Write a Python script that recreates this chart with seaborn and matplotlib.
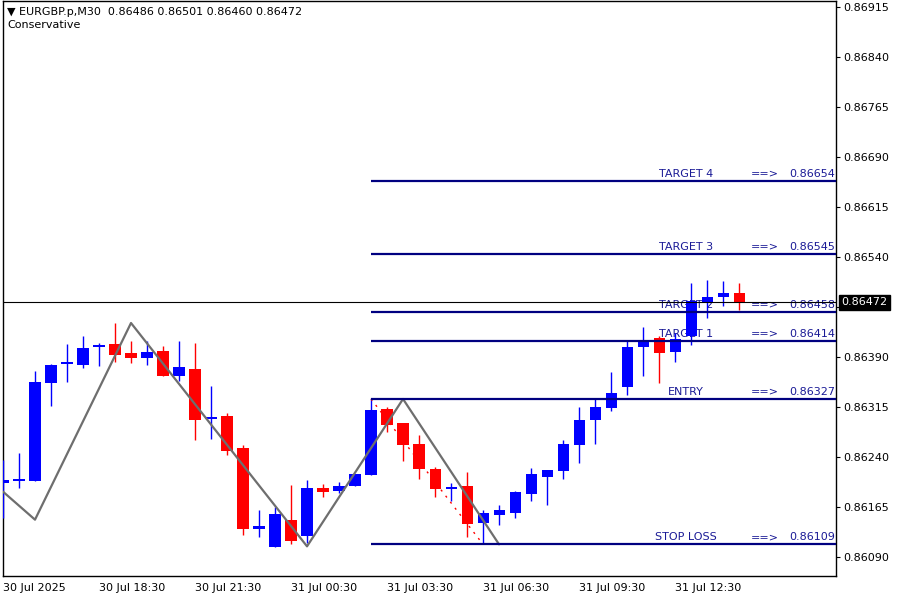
#!/usr/bin/env python3
"""EURGBP M30 candles with zigzag and conservative entry/target levels."""

import matplotlib
matplotlib.use("Agg")
import matplotlib.pyplot as plt
import pandas as pd
import seaborn as sns

# Candle data (bar index 0 = 30 Jul 15:30, 30 minute bars)
opens = [0.86201, 0.86204, 0.86204, 0.86351, 0.86380, 0.86378, 0.86405, 0.86410,
         0.86396, 0.86389, 0.86399, 0.86362, 0.86372, 0.86297, 0.86302, 0.86254,
         0.86132, 0.86105, 0.86146, 0.86122, 0.86194, 0.86189, 0.86197, 0.86213,
         0.86312, 0.86291, 0.86260, 0.86222, 0.86192, 0.86197, 0.86141, 0.86153,
         0.86156, 0.86185, 0.86210, 0.86219, 0.86258, 0.86296, 0.86314, 0.86345,
         0.86405, 0.86419, 0.86398, 0.86422, 0.86471, 0.86480, 0.86486]
highs = [0.86236, 0.86246, 0.86369, 0.86380, 0.86410, 0.86422, 0.86411, 0.86441,
         0.86414, 0.86414, 0.86407, 0.86414, 0.86411, 0.86347, 0.86306, 0.86258,
         0.86161, 0.86165, 0.86198, 0.86206, 0.86200, 0.86203, 0.86215, 0.86329,
         0.86315, 0.86291, 0.86273, 0.86225, 0.86201, 0.86218, 0.86161, 0.86168,
         0.86189, 0.86224, 0.86221, 0.86266, 0.86315, 0.86329, 0.86368, 0.86414,
         0.86435, 0.86422, 0.86426, 0.86501, 0.86506, 0.86504, 0.86501]
lows = [0.86149, 0.86194, 0.86204, 0.86317, 0.86352, 0.86374, 0.86377, 0.86383,
        0.86381, 0.86378, 0.86362, 0.86354, 0.86266, 0.86267, 0.86243, 0.86123,
        0.86120, 0.86105, 0.86110, 0.86111, 0.86180, 0.86186, 0.86197, 0.86213,
        0.86278, 0.86234, 0.86207, 0.86180, 0.86174, 0.86120, 0.86111, 0.86138,
        0.86149, 0.86174, 0.86168, 0.86207, 0.86231, 0.86260, 0.86309, 0.86333,
        0.86362, 0.86351, 0.86383, 0.86408, 0.86449, 0.86467, 0.86460]
closes = [0.86206, 0.86207, 0.86352, 0.86378, 0.86383, 0.86404, 0.86408, 0.86393,
          0.86389, 0.86398, 0.86362, 0.86375, 0.86296, 0.86300, 0.86249, 0.86132,
          0.86137, 0.86155, 0.86114, 0.86194, 0.86188, 0.86197, 0.86215, 0.86311,
          0.86288, 0.86258, 0.86222, 0.86192, 0.86195, 0.86140, 0.86156, 0.86161,
          0.86188, 0.86215, 0.86221, 0.86260, 0.86296, 0.86315, 0.86336, 0.86405,
          0.86416, 0.86396, 0.86417, 0.86474, 0.86480, 0.86486, 0.86472]

# Zigzag pivots
zigzag_bars = [0, 2, 8, 19, 25, 31]
zigzag_prices = [0.86188, 0.86146, 0.86441, 0.86106, 0.86327, 0.86109]

# Red dotted projection
proj_bars = [23, 30]
proj_prices = [0.86327, 0.86109]

# Trade levels
level_names = ["TARGET 4", "TARGET 3", "TARGET 2", "TARGET 1", "ENTRY", "STOP LOSS"]
level_values = [0.86654, 0.86545, 0.86458, 0.86414, 0.86327, 0.86109]
level_start = 23

current_price = 0.86472
header = "\u25bc EURGBP.p,M30  0.86486 0.86501 0.86460 0.86472"
subtitle = "Conservative"

ytick_values = [0.86090, 0.86165, 0.86240, 0.86315, 0.86390, 0.86465,
                0.86540, 0.86615, 0.86690, 0.86765, 0.86840, 0.86915]
xtick_bars = [0, 6, 12, 18, 24, 30, 36, 42]
xtick_labels = ["30 Jul 2025", "30 Jul 18:30", "30 Jul 21:30", "31 Jul 00:30",
                "31 Jul 03:30", "31 Jul 06:30", "31 Jul 09:30", "31 Jul 12:30"]

BULL = "#0000ff"
BEAR = "#ff0000"
LEVEL_LINE = "#000080"
LEVEL_TEXT = "#1a1a96"

sns.set_style("white")
plt.rcParams['font.family'] = ['DejaVu Sans']
plt.rcParams['font.size'] = 8

df = pd.DataFrame({'open': opens, 'high': highs, 'low': lows, 'close': closes})
df['bar'] = range(len(df))
df['color'] = [BULL if c >= o else BEAR for o, c in zip(df['open'], df['close'])]
df['body_lo'] = df[['open', 'close']].min(axis=1)
df['body_h'] = (df['close'] - df['open']).abs().clip(lower=0.00002)

fig = plt.figure(figsize=(9, 6), dpi=100)
ax = fig.add_axes([3 / 900, 24 / 600, 833 / 900, 575 / 600])

# wicks and bodies
ax.vlines(df['bar'], df['low'], df['high'], colors=df['color'], linewidth=1.0, zorder=3)
ax.bar(df['bar'], df['body_h'], bottom=df['body_lo'], width=0.69,
       color=df['color'], linewidth=0, zorder=4)

# zigzag
zz = pd.DataFrame({'bar': zigzag_bars, 'price': zigzag_prices})
sns.lineplot(data=zz, x='bar', y='price', ax=ax, color="#6e6e6e", linewidth=1.6,
             sort=False, zorder=5)
pj = pd.DataFrame({'bar': proj_bars, 'price': proj_prices})
sns.lineplot(data=pj, x='bar', y='price', ax=ax, color=BEAR, linewidth=1.0,
             linestyle=(0, (1.5, 4)), zorder=5)

# levels
for name, val in zip(level_names, level_values):
    ax.hlines(val, level_start, 53, colors=LEVEL_LINE, linewidth=1.6, zorder=6)
    ax.annotate(name, (42.7, val), xytext=(0, 1.5), textcoords='offset points',
                ha='center', va='bottom', color=LEVEL_TEXT, fontsize=8, zorder=2)
    ax.annotate("==>", (47.6, val), xytext=(0, 1.5), textcoords='offset points',
                ha='center', va='bottom', color=LEVEL_TEXT, fontsize=8, zorder=2)
    ax.annotate(f"{val:.5f}", (52.0, val), xytext=(0, 1.5), textcoords='offset points',
                ha='right', va='bottom', color=LEVEL_TEXT, fontsize=8, zorder=2)

# current price line and marker
ax.axhline(current_price, color='black', linewidth=0.8, zorder=7)
ax.annotate(f"{current_price:.5f}", xy=(1, current_price),
            xycoords=('axes fraction', 'data'), xytext=(4, 0), textcoords='offset points',
            ha='left', va='center', color='white', fontsize=8, annotation_clip=False,
            bbox=dict(boxstyle='square,pad=0.2', fc='black', ec='black'), zorder=10)

ax.set_xlim(0, 52.06)
ax.set_ylim(0.860615, 0.86924)
ax.yaxis.tick_right()
ax.set_yticks(ytick_values)
ax.set_yticklabels([f"{v:.5f}" for v in ytick_values])
ax.set_xticks(xtick_bars)
ax.set_xticklabels(xtick_labels, ha='left')
ax.tick_params(axis='both', direction='out', length=3, width=0.8, color='black',
               labelcolor='black', labelsize=8, pad=2)
ax.set_xlabel("")
ax.set_ylabel("")
for sp in ax.spines.values():
    sp.set_color('black')
    sp.set_linewidth(1.0)

fig.text(7 / 900, 1 - 12 / 600, header, ha='left', va='center', fontsize=8, color='black')
fig.text(7 / 900, 1 - 25 / 600, subtitle, ha='left', va='center', fontsize=8, color='black')

fig.savefig("out.png", dpi=100, facecolor='white')
plt.close(fig)
